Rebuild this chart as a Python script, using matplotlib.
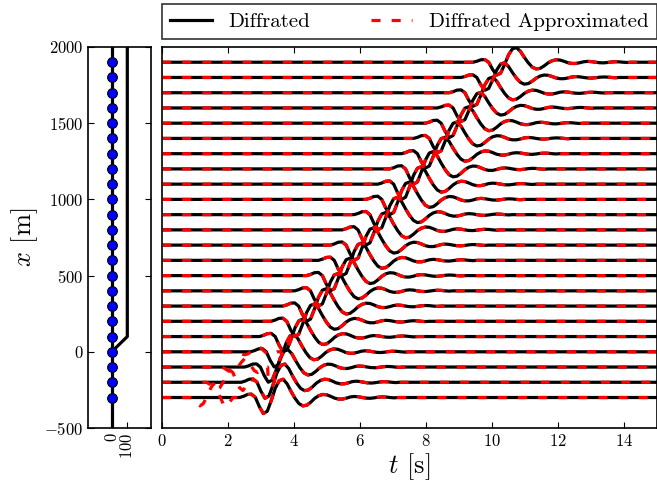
import numpy as np
import matplotlib
matplotlib.use("Agg")
import matplotlib.pyplot as plt
from matplotlib.ticker import FuncFormatter

# receiver positions along the line [m]
receivers = [-300, -200, -100, 0, 100, 200, 300, 400, 500, 600, 700, 800,
             900, 1000, 1100, 1200, 1300, 1400, 1500, 1600, 1700, 1800, 1900]
# onset time of the diffracted pulse on each trace [s]
arrival = [2.35, 2.40, 2.50, 2.68, 2.95, 3.30, 3.66, 4.02, 4.38, 4.74, 5.10, 5.46,
           5.82, 6.18, 6.54, 6.90, 7.26, 7.62, 7.98, 8.34, 8.70, 9.06, 9.42]
# trace gain (in receiver spacings)
gain = [1.0, 1.0, 0.95, 0.95, 0.95, 0.95, 0.95, 0.95, 0.95, 0.95, 0.95, 0.95,
        0.95, 0.95, 0.95, 0.95, 0.9, 0.9, 0.9, 0.85, 0.85, 0.8, 0.8]

# pulse, time after onset [s] and amplitude
pulse_tau = [0.0, 0.12, 0.24, 0.36, 0.48, 0.6, 0.72, 0.84, 0.96, 1.08, 1.2, 1.32,
             1.44, 1.56, 1.68, 1.8, 1.92, 2.04, 2.16, 2.28, 2.4, 2.52, 2.64, 2.76,
             2.88, 3.0, 3.12, 3.24, 3.36, 3.48, 3.6, 3.72, 3.84, 3.96, 4.08, 4.2,
             4.32, 4.44, 4.56, 4.68, 4.8]
pulse_amp = [0.0, 0.08, 0.2, 0.22, 0.0, -0.6, -1.05, -0.9, -0.2, 0.6, 1.1, 1.2,
             0.9, 0.4, -0.05, -0.4, -0.55, -0.5, -0.3, -0.05, 0.12, 0.2, 0.18,
             0.08, -0.04, -0.1, -0.1, -0.04, 0.04, 0.07, 0.05, 0.0, -0.04, -0.05,
             -0.02, 0.02, 0.04, 0.03, 0.0, -0.02, 0.0]

# extra wiggle of the approximation on the first traces
approx_traces = [0, 1, 2, 3]
approx_onset = [0.85, 1.35, 1.8, 2.2]
approx_gain = [1.0, 0.9, 0.6, 0.35]
approx_tau = [0.0, 0.1, 0.2, 0.3, 0.4, 0.5, 0.6, 0.7, 0.8, 0.9, 1.0, 1.1, 1.2, 1.3, 1.4]
approx_amp = [0.0, -0.15, -0.4, -0.55, -0.4, 0.0, 0.5, 0.9, 0.7, 0.1, -0.4, -0.6,
              -0.3, 0.0, 0.0]

plt.rcParams['font.family'] = 'cmr10'
plt.rcParams['mathtext.fontset'] = 'cm'
plt.rcParams['axes.unicode_minus'] = False
plt.rcParams['xtick.direction'] = 'in'
plt.rcParams['ytick.direction'] = 'in'
plt.rcParams['xtick.top'] = True
plt.rcParams['ytick.right'] = True
plt.rcParams['xtick.major.size'] = 4
plt.rcParams['ytick.major.size'] = 4
plt.rcParams['axes.linewidth'] = 1.2
plt.rcParams['lines.scale_dashes'] = False

mathfmt = FuncFormatter(lambda v, p: r'$%g$' % v)

fig = plt.figure(figsize=(6.57, 4.84), dpi=100)
ax_geo = fig.add_axes([0.1344, 0.1157, 0.095, 0.7872])
ax = fig.add_axes([0.2466, 0.1157, 0.7534, 0.7872])

# geometry panel
ax_geo.plot([0, 0], [-500, 2000], color='k', lw=2.3)
ax_geo.plot([0, 100, 100], [0, 100, 2000], color='k', lw=2.3)
ax_geo.plot(np.zeros(len(receivers)), receivers, 'o', color='#0000ff',
            mec='k', mew=0.8, ms=7)
ax_geo.set_xlim(-150, 250)
ax_geo.set_ylim(-500, 2000)
ax_geo.set_xticks([0, 100])
ax_geo.set_yticks([-500, 0, 500, 1000, 1500, 2000])
ax_geo.xaxis.set_major_formatter(mathfmt)
ax_geo.yaxis.set_major_formatter(mathfmt)
ax_geo.tick_params(axis='x', labelrotation=90, labelsize=12)
ax_geo.tick_params(axis='y', labelsize=12)
ax_geo.set_ylabel(r'$x$ [m]', fontsize=19, labelpad=3)

# seismograms
tau = np.array(pulse_tau)
amp = np.array(pulse_amp)
atau = np.array(approx_tau)
aamp = np.array(approx_amp)
for i, xr in enumerate(receivers):
    t = np.concatenate([[0.0], arrival[i] + tau, [15.0]])
    y = xr + 100 * gain[i] * np.concatenate([[0.0], amp, [0.0]])
    ax.plot(t, y, color='k', lw=2.3, label='Diffrated' if i == 0 else None)
for i, xr in enumerate(receivers):
    t = np.concatenate([[0.0], arrival[i] + tau, [15.0]])
    y = xr + 100 * gain[i] * np.concatenate([[0.0], amp, [0.0]])
    if i in approx_traces:
        j = approx_traces.index(i)
        ta = approx_onset[j] + atau
        ya = xr + 100 * approx_gain[j] * aamp
        keep = t > ta[-1]
        t = np.concatenate([[0.0], ta, t[keep]])
        y = np.concatenate([[xr], ya, y[keep]])
    ax.plot(t, y, color='red', lw=2.3, ls=(0, (6.5, 8.0)),
            label='Diffrated Approximated' if i == 0 else None)

ax.set_xlim(0, 15)
ax.set_ylim(-500, 2000)
ax.set_xticks(np.arange(0, 15, 2))
ax.set_yticks([])
ax.xaxis.set_major_formatter(mathfmt)
ax.tick_params(axis='x', labelsize=12)
ax.set_xlabel(r'$t$ [s]', fontsize=19, labelpad=2)

leg = ax.legend(loc='lower left', bbox_to_anchor=(0.0, 1.02, 1.0, 0.1),
                mode='expand', ncol=2, borderaxespad=0.0, fontsize=15,
                fancybox=False, frameon=True, handlelength=2.0)
leg.get_frame().set_edgecolor('k')
leg.get_frame().set_linewidth(1.2)

fig.savefig('out.png', dpi=100)
